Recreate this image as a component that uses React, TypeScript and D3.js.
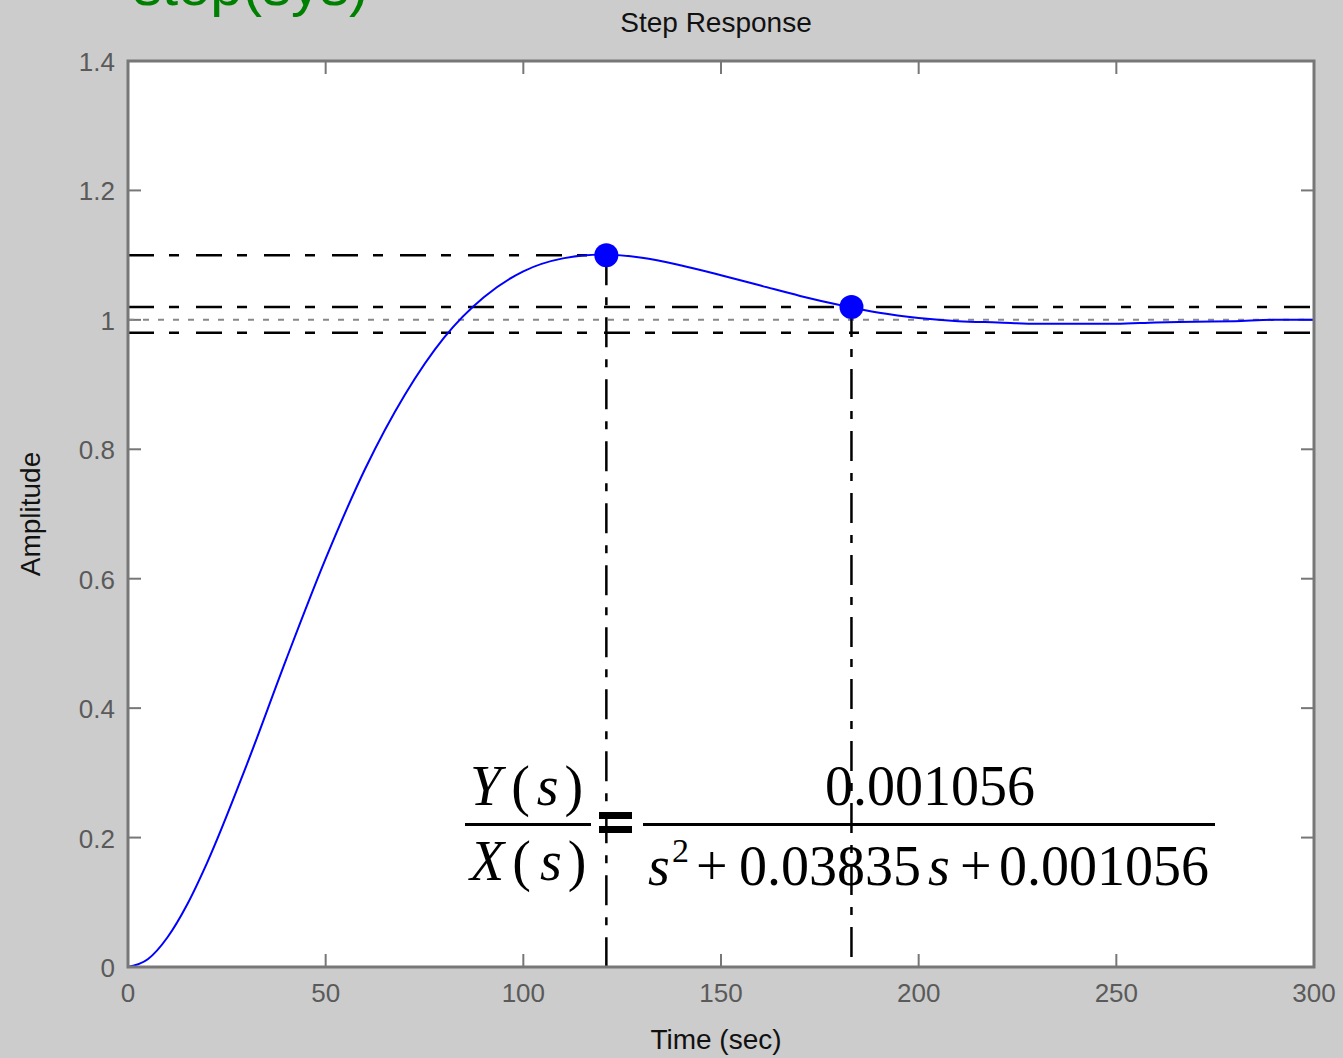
import React from 'react';
import * as d3 from 'd3';

// step response (seconds, amplitude)
const timeSec = [0, 5, 10, 15, 20, 30, 40, 50, 60, 70, 80, 90, 100, 110, 120, 130, 140, 150, 160, 170, 180, 190, 200, 210, 220, 230, 240, 250, 260, 270, 280, 290, 300];
const amplitude = [0, 0.012, 0.046, 0.097, 0.161, 0.312, 0.475, 0.631, 0.77, 0.884, 0.973, 1.035, 1.075, 1.095, 1.101, 1.096, 1.084, 1.069, 1.053, 1.037, 1.023, 1.011, 1.003, 0.998, 0.996, 0.994, 0.994, 0.994, 0.996, 0.997, 0.998, 1.0, 1.0];

// characteristic points (peak response, settling time)
const peakPoint = { t: 121, y: 1.1 };
const settlePoint = { t: 183, y: 1.02 };
const finalValue = 1.0;
const settleBand = [1.02, 0.98];

const xTicks = [0, 50, 100, 150, 200, 250, 300];
const yTicks = [0, 0.2, 0.4, 0.6, 0.8, 1, 1.2, 1.4];

const W = 1343;
const H = 1058;
const margin = { top: 61, right: 29, bottom: 91, left: 128 };

const BG = '#cccccc';
const AXIS = '#777777';
const LABEL = '#5a5a5a';
const DASHDOT = '26,15,10,17';
const SANS = '"Liberation Sans", Arial, sans-serif';
const SERIF = '"Liberation Serif", "Times New Roman", serif';

export default function App() {
    const x = d3.scaleLinear().domain([0, 300]).range([margin.left, W - margin.right]);
    const y = d3.scaleLinear().domain([0, 1.4]).range([H - margin.bottom, margin.top]);
    const [x0, x1] = x.range();
    const [yb, yt] = y.range();

    const pts: [number, number][] = timeSec.map((t, i) => [t, amplitude[i]]);
    const line = d3.line<[number, number]>()
        .x(d => x(d[0]))
        .y(d => y(d[1]))
        .curve(d3.curveMonotoneX);

    const tickLen = 13;
    const midX = 716;

    return (
        <svg width={W} height={H} style={{ position: 'absolute', left: 0, top: 0, background: BG }}>
            <rect x={0} y={0} width={W} height={H} fill={BG} />

            {/* green command text, cut off at the top as in the screenshot */}
            <text x={133} y={5} fontFamily={SANS} fontSize={58} fill="#008000">step(sys)</text>

            <text x={midX} y={32} textAnchor="middle" fontFamily={SANS} fontSize={28} fill="#111">Step Response</text>

            {/* plot area */}
            <rect x={x0} y={yt} width={x1 - x0} height={yb - yt} fill="#fff" />

            {/* ticks on all four sides */}
            {xTicks.slice(1, -1).map(t => (
                <g key={'xt' + t} stroke={AXIS} strokeWidth={2}>
                    <line x1={x(t)} x2={x(t)} y1={yb} y2={yb - tickLen} />
                    <line x1={x(t)} x2={x(t)} y1={yt} y2={yt + tickLen} />
                </g>
            ))}
            {yTicks.slice(1, -1).map(v => (
                <g key={'yt' + v} stroke={AXIS} strokeWidth={2}>
                    <line x1={x0} x2={x0 + tickLen} y1={y(v)} y2={y(v)} />
                    <line x1={x1} x2={x1 - tickLen} y1={y(v)} y2={y(v)} />
                </g>
            ))}

            {/* reference lines */}
            <line x1={x0} x2={x1} y1={y(finalValue)} y2={y(finalValue)} stroke="#888" strokeWidth={2} strokeDasharray="6,9" />
            {settleBand.map(v => (
                <line key={'band' + v} x1={x0} x2={x1} y1={y(v)} y2={y(v)} stroke="#000" strokeWidth={2.5} strokeDasharray={DASHDOT} />
            ))}
            <line x1={x0} x2={x(peakPoint.t)} y1={y(peakPoint.y)} y2={y(peakPoint.y)} stroke="#000" strokeWidth={2.5} strokeDasharray={DASHDOT} />
            {[peakPoint, settlePoint].map(p => (
                <line key={'v' + p.t} x1={x(p.t)} x2={x(p.t)} y1={y(p.y)} y2={yb} stroke="#000" strokeWidth={2.5} strokeDasharray="30,12,8,12" />
            ))}

            {/* response curve */}
            <path d={line(pts) || ''} fill="none" stroke="#0000ff" strokeWidth={2} />
            {[peakPoint, settlePoint].map(p => (
                <circle key={'m' + p.t} cx={x(p.t)} cy={y(p.y)} r={12} fill="#0000ff" />
            ))}

            {/* axes box */}
            <rect x={x0} y={yt} width={x1 - x0} height={yb - yt} fill="none" stroke={AXIS} strokeWidth={3} />

            {/* tick labels */}
            {xTicks.map(t => (
                <text key={'xl' + t} x={x(t)} y={yb + 35} textAnchor="middle" fontFamily={SANS} fontSize={26} fill={LABEL}>{t}</text>
            ))}
            {yTicks.map(v => (
                <text key={'yl' + v} x={x0 - 13} y={y(v) + 10} textAnchor="end" fontFamily={SANS} fontSize={26} fill={LABEL}>{d3.format('~g')(v)}</text>
            ))}

            {/* axis titles */}
            <text x={midX} y={1049} textAnchor="middle" fontFamily={SANS} fontSize={28} fill="#111">Time (sec)</text>
            <text transform={`translate(40,${(yt + yb) / 2}) rotate(-90)`} textAnchor="middle" fontFamily={SANS} fontSize={28} fill="#111">Amplitude</text>

            {/* transfer function annotation */}
            <g fontFamily={SERIF} fontSize={56} fill="#000">
                <text x={470} y={805}><tspan fontStyle="italic">Y</tspan><tspan dx={10}>(</tspan><tspan fontStyle="italic" dx={7}>s</tspan><tspan dx={6}>)</tspan></text>
                <rect x={465} y={823} width={126} height={3} />
                <text x={470} y={880}><tspan fontStyle="italic">X</tspan><tspan dx={8}>(</tspan><tspan fontStyle="italic" dx={9}>s</tspan><tspan dx={6}>)</tspan></text>

                <rect x={599} y={812} width={33} height={7} />
                <rect x={599} y={826} width={33} height={7} />

                <text x={930} y={805} textAnchor="middle">0.001056</text>
                <rect x={643} y={823} width={572} height={3} />
                <text x={648} y={885} fontStyle="italic">s</text>
                <text x={672} y={862} fontSize={34}>2</text>
                <text x={696} y={885}>+</text>
                <text x={739} y={885}>0.03835</text>
                <text x={928} y={885} fontStyle="italic">s</text>
                <text x={960} y={885}>+</text>
                <text x={999} y={885}>0.001056</text>
            </g>
        </svg>
    );
}
